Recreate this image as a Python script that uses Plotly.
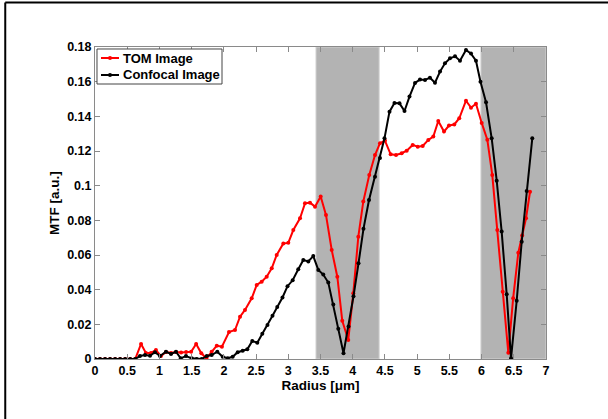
import plotly.graph_objects as go

# ---- data ----
tom_x = [0, 0.078, 0.156, 0.234, 0.312, 0.39, 0.468, 0.546, 0.624,
         0.715, 0.79, 0.868, 0.946, 1.024, 1.102, 1.18, 1.258, 1.336, 1.414,
         1.492, 1.57, 1.65, 1.73, 1.81, 1.89, 1.97, 2.08, 2.173, 2.251,
         2.328, 2.432, 2.51, 2.587, 2.665, 2.743, 2.82, 2.923, 3.0, 3.078,
         3.182, 3.259, 3.337, 3.415, 3.503, 3.585, 3.674, 3.761, 3.838, 3.931,
         4.009, 4.087, 4.164, 4.257, 4.346, 4.423, 4.5, 4.589, 4.672, 4.76,
         4.838, 4.931, 5.009, 5.086, 5.173, 5.251, 5.328, 5.417, 5.494, 5.577,
         5.654, 5.758, 5.836, 5.913, 6.002, 6.089, 6.166, 6.244, 6.328, 6.415,
         6.49, 6.57, 6.63, 6.69, 6.752]
tom_y = [0, 0, 0, 0, 0, 0, 0, 0, 0,
         0.0087, 0.0035, 0.0035, 0.0052, 0.0017, 0.004, 0.0035, 0.004, 0.0037, 0.004,
         0.0042, 0.0087, 0.0033, 0.0004, 0.0042, 0.0077, 0.0071, 0.0156, 0.0167, 0.0244,
         0.0283, 0.035, 0.0427, 0.0446, 0.0475, 0.0523, 0.06, 0.0667, 0.067, 0.0744,
         0.0812, 0.0898, 0.0902, 0.0879, 0.0937, 0.0831, 0.0629, 0.0475, 0.022, 0.011,
         0.0379, 0.0706, 0.0908, 0.1062, 0.1177, 0.1245, 0.126, 0.1181, 0.1177, 0.1187,
         0.1202, 0.1235, 0.1225, 0.1229, 0.1264, 0.1283, 0.1373, 0.1312, 0.1347, 0.1353,
         0.1389, 0.149, 0.145, 0.1473, 0.1362, 0.1265, 0.1062, 0.0744, 0.0388, 0.0036,
         0.035, 0.0613, 0.0712, 0.0812, 0.0965]

conf_x = [0, 0.078, 0.156, 0.234, 0.312, 0.39, 0.468, 0.546, 0.624,
          0.698, 0.776, 0.854, 0.931, 1.009, 1.102, 1.18, 1.257, 1.33, 1.412,
          1.501, 1.578, 1.656, 1.734, 1.811, 1.898, 1.982, 2.06, 2.137, 2.215,
          2.292, 2.364, 2.441, 2.519, 2.597, 2.677, 2.755, 2.829, 2.91, 2.988,
          3.068, 3.155, 3.233, 3.311, 3.388, 3.466, 3.543, 3.621, 3.699, 3.776,
          3.857, 3.935, 4.012, 4.09, 4.167, 4.253, 4.346, 4.423, 4.493, 4.571,
          4.648, 4.726, 4.804, 4.881, 4.967, 5.044, 5.122, 5.199, 5.277, 5.355,
          5.432, 5.51, 5.588, 5.665, 5.758, 5.836, 5.913, 5.983, 6.069, 6.157,
          6.235, 6.312, 6.39, 6.457, 6.545, 6.623, 6.7, 6.787]
conf_y = [0, 0, 0, 0, 0, 0, 0, 0, 0,
          0.0017, 0.0023, 0.0019, 0.0039, 0.0017, 0.0042, 0.0029, 0.0042, 0.0004, 0.0017,
          0.0004, 0.0, 0.0, 0.0017, 0.0023, 0.0042, 0.0013, 0.0004, 0.0013, 0.0039,
          0.0048, 0.0056, 0.0104, 0.0094, 0.0146, 0.0196, 0.025, 0.03, 0.0355, 0.042,
          0.0454, 0.0518, 0.0571, 0.0563, 0.0594, 0.0514, 0.0487, 0.0441, 0.0315, 0.0174,
          0.0033, 0.0188, 0.0362, 0.0552, 0.0751, 0.0917, 0.1052, 0.116, 0.1273, 0.1427,
          0.1477, 0.1475, 0.1431, 0.1514, 0.1593, 0.1612, 0.161, 0.1623, 0.1594, 0.1658,
          0.1706, 0.1735, 0.1746, 0.1721, 0.1783, 0.1762, 0.1721, 0.16, 0.1481, 0.1273,
          0.1029, 0.0735, 0.0373, 0.0004, 0.0336, 0.0677, 0.0969, 0.1273]

series_names = ["TOM Image", "Confocal Image"]
series_colors = ["#ff0000", "#000000"]

shade_ranges = [(3.43, 4.41), (5.99, 7.0)]

x_ticks = [0, 0.5, 1, 1.5, 2, 2.5, 3, 3.5, 4, 4.5, 5, 5.5, 6, 6.5, 7]
x_labels = ["0", "0.5", "1", "1.5", "2", "2.5", "3", "3.5", "4", "4.5", "5", "5.5", "6", "6.5", "7"]
y_ticks = [0, 0.02, 0.04, 0.06, 0.08, 0.1, 0.12, 0.14, 0.16, 0.18]
y_labels = ["0", "0.02", "0.04", "0.06", "0.08", "0.1", "0.12", "0.14", "0.16", "0.18"]

FONT = "Liberation Sans"
AXC = "#8a8a8a"
TICK_SIZE = 12.5
TITLE_SIZE = 13.5
LEGEND_SIZE = 13

fig = go.Figure()
fig.add_trace(go.Scatter(x=tom_x, y=tom_y, mode="lines+markers", name=series_names[0],
                         line=dict(color=series_colors[0], width=2),
                         marker=dict(color=series_colors[0], size=4), showlegend=False))
fig.add_trace(go.Scatter(x=conf_x, y=conf_y, mode="lines+markers", name=series_names[1],
                         line=dict(color=series_colors[1], width=2),
                         marker=dict(color=series_colors[1], size=4), showlegend=False))

for x0, x1 in shade_ranges:
    fig.add_shape(type="rect", xref="x", yref="y", x0=x0, x1=x1, y0=0, y1=0.18,
                  fillcolor="#b3b3b3", line=dict(color="#d2d2d2", width=1), layer="below")

# figure frame (top and left edges visible)
fig.add_shape(type="line", xref="paper", yref="paper", x0=-0.199, x1=1.2, y0=1.1426, y1=1.1426,
              line=dict(color="black", width=2))
fig.add_shape(type="line", xref="paper", yref="paper", x0=-0.199, x1=-0.199, y0=1.1426, y1=-0.3,
              line=dict(color="black", width=2))

# legend box drawn manually (MATLAB style)
fig.add_shape(type="rect", xref="paper", yref="paper", x0=0.0044, x1=0.2816, y0=0.8814, y1=0.9936,
              fillcolor="white", line=dict(color="#444444", width=1))
legend_rows = [0.9647, 0.9103]
for name, color, yy in zip(series_names, series_colors, legend_rows):
    fig.add_shape(type="line", xref="paper", yref="paper", x0=0.0133, x1=0.0532, y0=yy, y1=yy,
                  line=dict(color=color, width=2))
    fig.add_shape(type="circle", xref="paper", yref="paper",
                  x0=0.0333 - 0.0045, x1=0.0333 + 0.0045, y0=yy - 0.0065, y1=yy + 0.0065,
                  fillcolor=color, line=dict(color=color, width=0))
    fig.add_annotation(xref="paper", yref="paper", x=0.0575, y=yy, text=name, showarrow=False,
                       xanchor="left", yanchor="middle",
                       font=dict(family=FONT, size=LEGEND_SIZE, color="black", weight="bold"))

axis_common = dict(showgrid=False, zeroline=False, showline=True, linecolor=AXC, linewidth=1,
                   mirror="ticks", ticks="inside", ticklen=5, tickcolor=AXC, tickwidth=1,
                   tickfont=dict(family=FONT, size=TICK_SIZE, color="black", weight="bold"))

fig.update_layout(
    width=608, height=419,
    margin=dict(l=95, r=62, t=47, b=60),
    paper_bgcolor="white", plot_bgcolor="white",
    font=dict(family=FONT, size=12, color="black"),
    xaxis=dict(range=[0, 7], tickvals=x_ticks, ticktext=x_labels,
               title=dict(text="Radius [\u03bcm]", font=dict(family=FONT, size=TITLE_SIZE, weight="bold"),
                          standoff=0),
               **axis_common),
    yaxis=dict(range=[0, 0.18], tickvals=y_ticks, ticktext=y_labels,
               title=dict(text="MTF [a.u.]", font=dict(family=FONT, size=TITLE_SIZE, weight="bold"),
                          standoff=4),
               **axis_common),
    showlegend=False,
)

fig.write_html("out.html")
